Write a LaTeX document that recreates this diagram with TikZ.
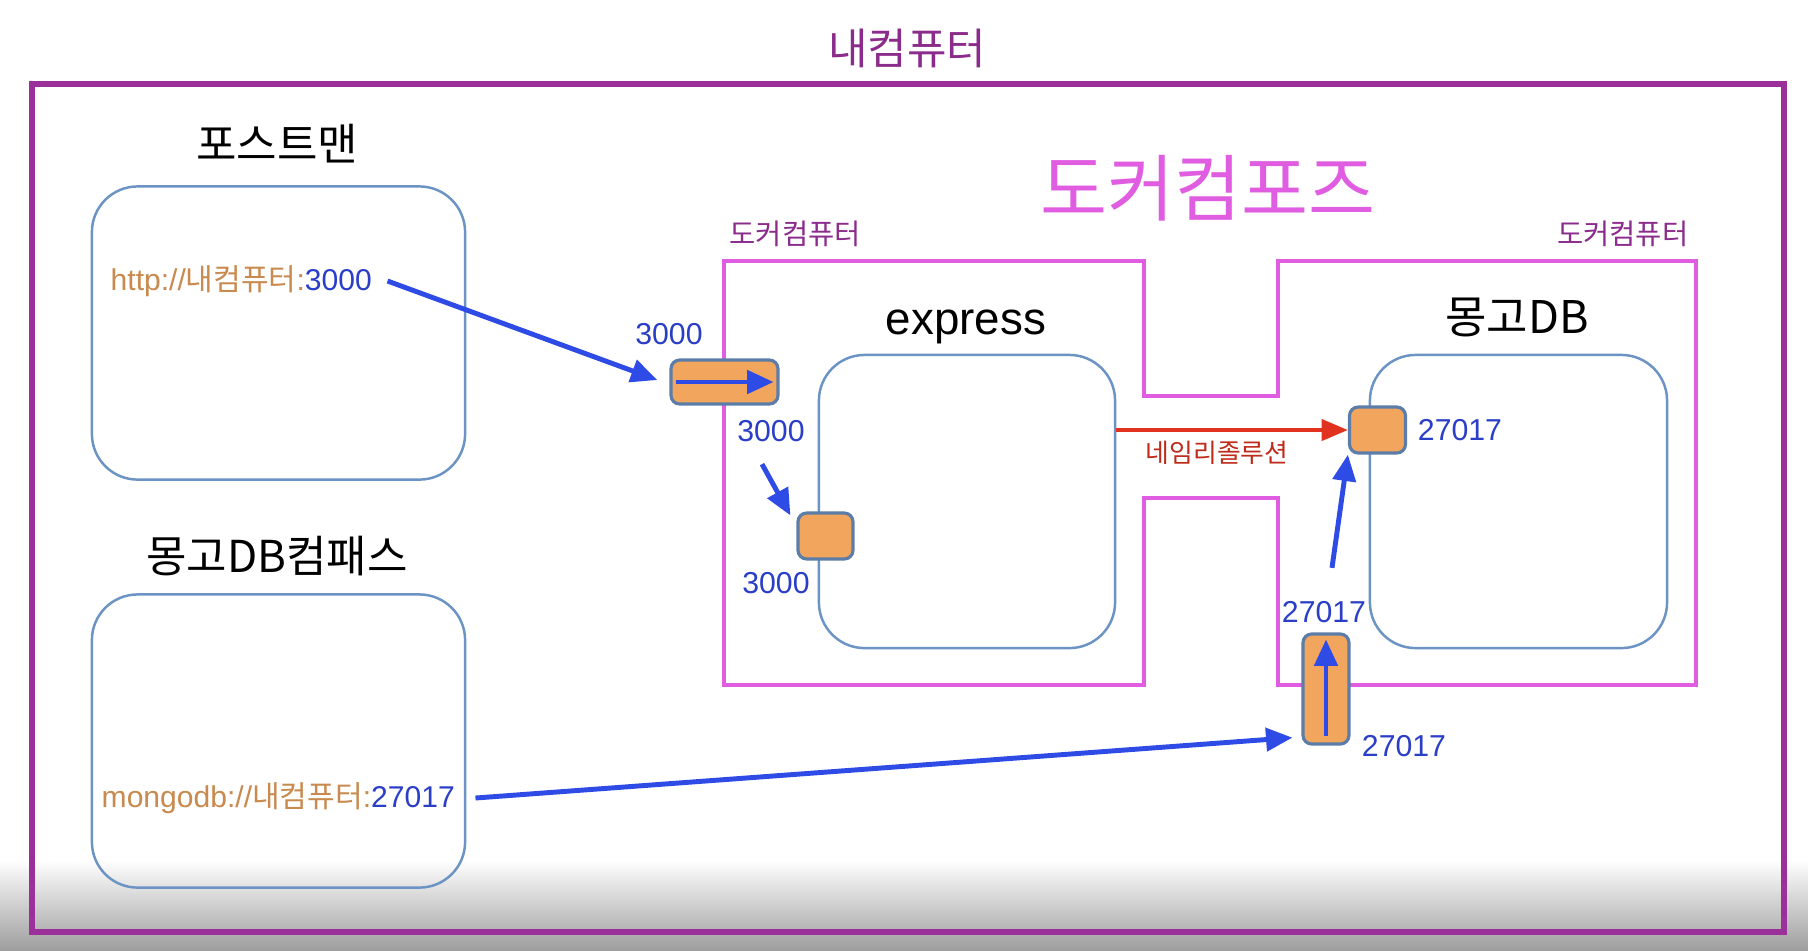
\documentclass[tikz,border=0pt]{standalone}
\usepackage{fontspec}
\setmainfont{Liberation Sans}
\newfontfamily\kr{Noto Sans CJK KR}
\usetikzlibrary{arrows.meta}
\definecolor{pcpurple}{HTML}{9B309B}
\definecolor{dockpink}{HTML}{E05CE0}
\definecolor{boxblue}{HTML}{6B93C4}
\definecolor{portorange}{HTML}{F2A55C}
\definecolor{arrowblue}{HTML}{2F4BE6}
\definecolor{numblue}{HTML}{2A3EC8}
\definecolor{urlbrown}{HTML}{C88A4E}
\definecolor{resred}{HTML}{E0321E}
\tikzset{
  appbox/.style={draw=boxblue, line width=0.7pt, rounded corners=13pt,
    minimum width=3.73cm, minimum height=2.93cm},
  portbox/.style={draw=boxblue!85!black, fill=portorange, line width=0.9pt,
    rounded corners=2.5pt, inner sep=0pt},
  portnum/.style={text=numblue, font=\fontsize{8.6}{10}\selectfont},
  apptitle/.style={font=\kr\fontsize{12.5}{15}\selectfont},
  urltext/.style={anchor=west, inner sep=0pt, font=\fontsize{8.55}{10}\selectfont},
  docklabel/.style={inner sep=0pt, text=pcpurple!90!black, font=\kr\fontsize{8.1}{10}\selectfont},
  bigarrow/.style={draw=arrowblue, line width=1.4pt, -{Triangle[length=7.5pt,width=6.5pt]}},
}
\begin{document}
\begin{tikzpicture}[x=0.01cm, y=-0.01cm]
\useasboundingbox (0,0) rectangle (1808,950);
\fill[white] (0,0) rectangle (1808,950);
\shade[top color=white, bottom color=black!38] (0,860) rectangle (1808,950);
% my computer
\node[text=pcpurple!90!black, font=\kr\fontsize{12.2}{15}\selectfont] (mypc) at (907,48) {내컴퓨터};
\draw[pcpurple, line width=1.7pt] (32,84) rectangle (1784,932);
% clients
\node[apptitle] (pmtitle) at (277,144) {포스트맨};
\node[appbox] (postman) at (278.5,333) {};
\node[urltext] (purl) at (110,281)
  {\color{urlbrown}http://{\kr 내컴퓨터}:\color{numblue}3000};
\node[apptitle] (cptitle) at (277,556) {몽고DB컴패스};
\node[appbox] (compass) at (278.5,741) {};
\node[urltext] (murl) at (101,798)
  {\color{urlbrown}mongodb://{\kr 내컴퓨터}:\color{numblue}27017};
% docker compose
\node[text=dockpink, font=\kr\fontsize{20.7}{24}\selectfont] (compose) at (1208,188) {도커컴포즈};
\draw[dockpink, line width=1.3pt] (724,261) -- (1144,261) -- (1144,396) -- (1278,396)
  -- (1278,261) -- (1696,261) -- (1696,685) -- (1278,685) -- (1278,498)
  -- (1144,498) -- (1144,685) -- (724,685) -- cycle;
\node[docklabel, anchor=west] (dock1) at (729,234) {도커컴퓨터};
\node[docklabel, anchor=east] (dock2) at (1689,234) {도커컴퓨터};
% containers
\node[font=\fontsize{13}{16}\selectfont] (extitle) at (966,327) {express};
\node[appbox, minimum width=2.96cm] (express) at (967,501.5) {};
\node[font=\kr\fontsize{12.8}{15}\selectfont] (mgtitle) at (1517,317) {몽고DB};
\node[appbox, minimum width=2.97cm] (mongo) at (1518.5,501.5) {};
% ports
\node[portbox, minimum width=1.07cm, minimum height=0.44cm] (hport) at (724.5,382) {};
\node[portbox, minimum width=0.55cm, minimum height=0.46cm] (eport) at (825.5,536) {};
\node[portbox, minimum width=0.56cm, minimum height=0.46cm] (mport) at (1377.5,430) {};
\node[portbox, minimum width=0.46cm, minimum height=1.10cm] (vport) at (1326,689) {};
\node[portnum] (hlbl) at (669,334) {3000};
\node[portnum] (hlbl2) at (771,431) {3000};
\node[portnum] (elbl) at (776,583) {3000};
\node[portnum] (mlbl) at (1460,430) {27017};
\node[portnum] (vlbl) at (1324,612) {27017};
\node[portnum] (vlbl2) at (1404,746) {27017};
\node[text=resred!85!black, font=\kr\fontsize{7.35}{9}\selectfont] (resolve) at (1217,453) {네임리졸루션};
% arrows
\draw[bigarrow] ([xshift=0.15cm]purl.east) -- ([shift={(-12,-2)}]hport.west);
\draw[bigarrow] ([xshift=0.07cm]hport.west) -- ([xshift=-0.06cm]hport.east);
\draw[bigarrow] ([shift={(-9,10)}]hlbl2.south) -- ([shift={(-6,4)}]eport.north west);
\draw[resred, line width=1.15pt, -{Triangle[length=7.5pt,width=6pt]}] (express.east |- mport.west) -- (mport.west);
\draw[bigarrow] ([xshift=0.2cm]murl.east) -- ([shift={(-9,-8)}]vport.south west);
\draw[bigarrow] ([yshift=0.1cm]vport.south) -- ([yshift=-0.07cm]vport.north);
\draw[bigarrow] ([shift={(8,-21)}]vlbl.north) -- (mport.south west);
\end{tikzpicture}
\end{document}
